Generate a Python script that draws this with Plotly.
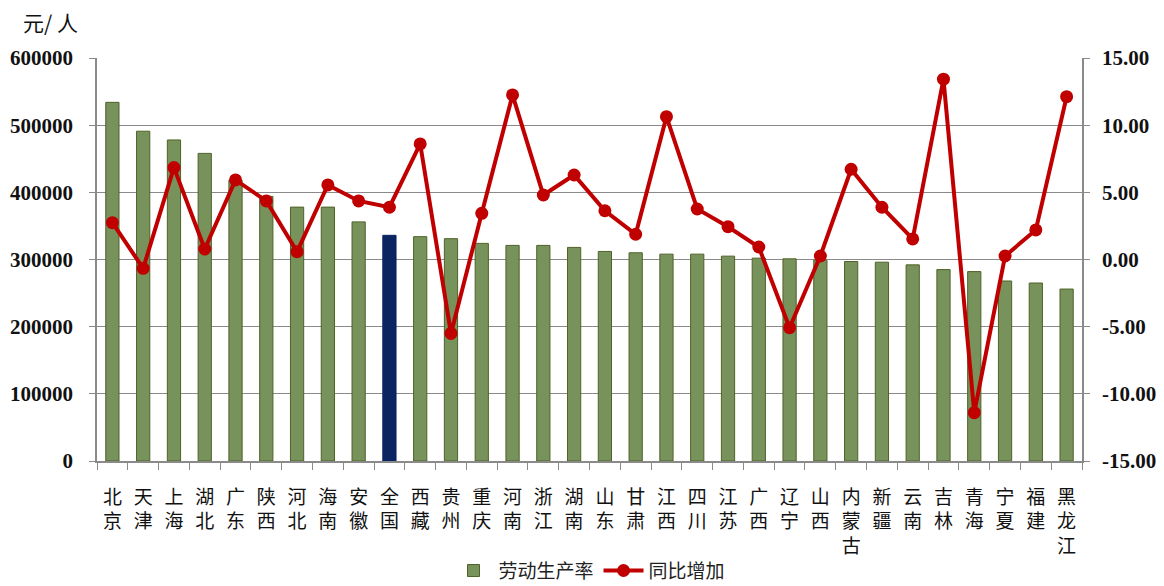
import plotly.graph_objects as go

provinces = ["北京", "天津", "上海", "湖北", "广东", "陕西", "河北", "海南", "安徽", "全国",
             "西藏", "贵州", "重庆", "河南", "浙江", "湖南", "山东", "甘肃", "江西", "四川",
             "江苏", "广西", "辽宁", "山西", "内蒙古", "新疆", "云南", "吉林", "青海", "宁夏",
             "福建", "黑龙江"]
productivity = [534000, 491000, 478000, 458000, 418000, 394000, 378000, 378000, 356000, 336000,
                334000, 331000, 324000, 321000, 321000, 318000, 312000, 310000, 308000, 308000,
                305000, 302000, 301000, 299000, 297000, 296000, 292000, 285000, 282000, 268000,
                265000, 256000]
growth = [2.74, -0.66, 6.84, 0.78, 5.92, 4.36, 0.58, 5.55, 4.36, 3.89,
          8.60, -5.50, 3.44, 12.25, 4.80, 6.29, 3.63, 1.88, 10.63, 3.76,
          2.44, 0.93, -5.08, 0.26, 6.72, 3.89, 1.53, 13.42, -11.4, 0.26,
          2.20, 12.12]
left_ticks = [0, 100000, 200000, 300000, 400000, 500000, 600000]
right_ticks = [-15, -10, -5, 0, 5, 10, 15]

labels = ["<br>".join(list(p)) for p in provinces]
bar_colors = ["#0B2462" if p == "全国" else "#77925A" for p in provinces]
bar_lines = ["#0B2462" if p == "全国" else "#4F6228" for p in provinces]

serif = "Liberation Serif, Times New Roman, serif"
cjk = "Noto Sans CJK SC"

fig = go.Figure()
fig.add_trace(go.Bar(
    x=labels, y=productivity, name="劳动生产率",
    marker=dict(color=bar_colors, line=dict(color=bar_lines, width=1)),
    width=0.43, yaxis="y",
))
fig.add_trace(go.Scatter(
    x=labels, y=growth, name="同比增加", mode="lines+markers",
    line=dict(color="#C00000", width=4),
    marker=dict(color="#C00000", size=13),
    yaxis="y2",
))

fig.update_layout(
    width=1164, height=586,
    margin=dict(l=89, r=90, t=50, b=133, autoexpand=False),
    paper_bgcolor="white", plot_bgcolor="white",
    showlegend=True,
    legend=dict(orientation="h", x=0.5, xanchor="center", xref="paper",
                y=-0.225, yanchor="top", yref="paper",
                font=dict(family=cjk, size=19, color="#222"), itemwidth=40),
    xaxis=dict(
        type="category", range=[-0.5, len(provinces) - 0.5], automargin=False,
        showgrid=False, showline=True, linecolor="#8a8a8a", linewidth=1.5,
        ticks="outside", tickson="boundaries", ticklen=7, tickcolor="#8a8a8a",
        ticklabelstandoff=18,
        tickfont=dict(family=cjk, size=19, color="#111"),
    ),
    yaxis=dict(
        range=[0, 600000], tickvals=left_ticks, ticktext=[str(v) for v in left_ticks],
        automargin=False,
        showgrid=True, gridcolor="#8a8a8a", gridwidth=1.2,
        showline=True, linecolor="#8a8a8a", linewidth=1.5,
        ticks="outside", ticklen=6, tickcolor="#8a8a8a", ticklabelstandoff=12,
        tickfont=dict(family=serif, size=21, color="#111", weight="bold"),
        zeroline=False,
    ),
    yaxis2=dict(
        range=[-15, 15], tickvals=right_ticks, ticktext=["%.2f" % v for v in right_ticks],
        automargin=False,
        overlaying="y", side="right", showgrid=False,
        showline=True, linecolor="#8a8a8a", linewidth=1.5,
        ticks="outside", ticklen=6, tickcolor="#8a8a8a", ticklabelstandoff=8,
        tickfont=dict(family=serif, size=21, color="#111", weight="bold"),
        zeroline=False,
    ),
    annotations=[dict(text="元/ 人", xref="paper", yref="paper", x=-0.077, y=1.047,
                      xanchor="left", yanchor="bottom", showarrow=False,
                      font=dict(family=cjk, size=21, color="#111"))],
)

fig.write_html("out.html")
